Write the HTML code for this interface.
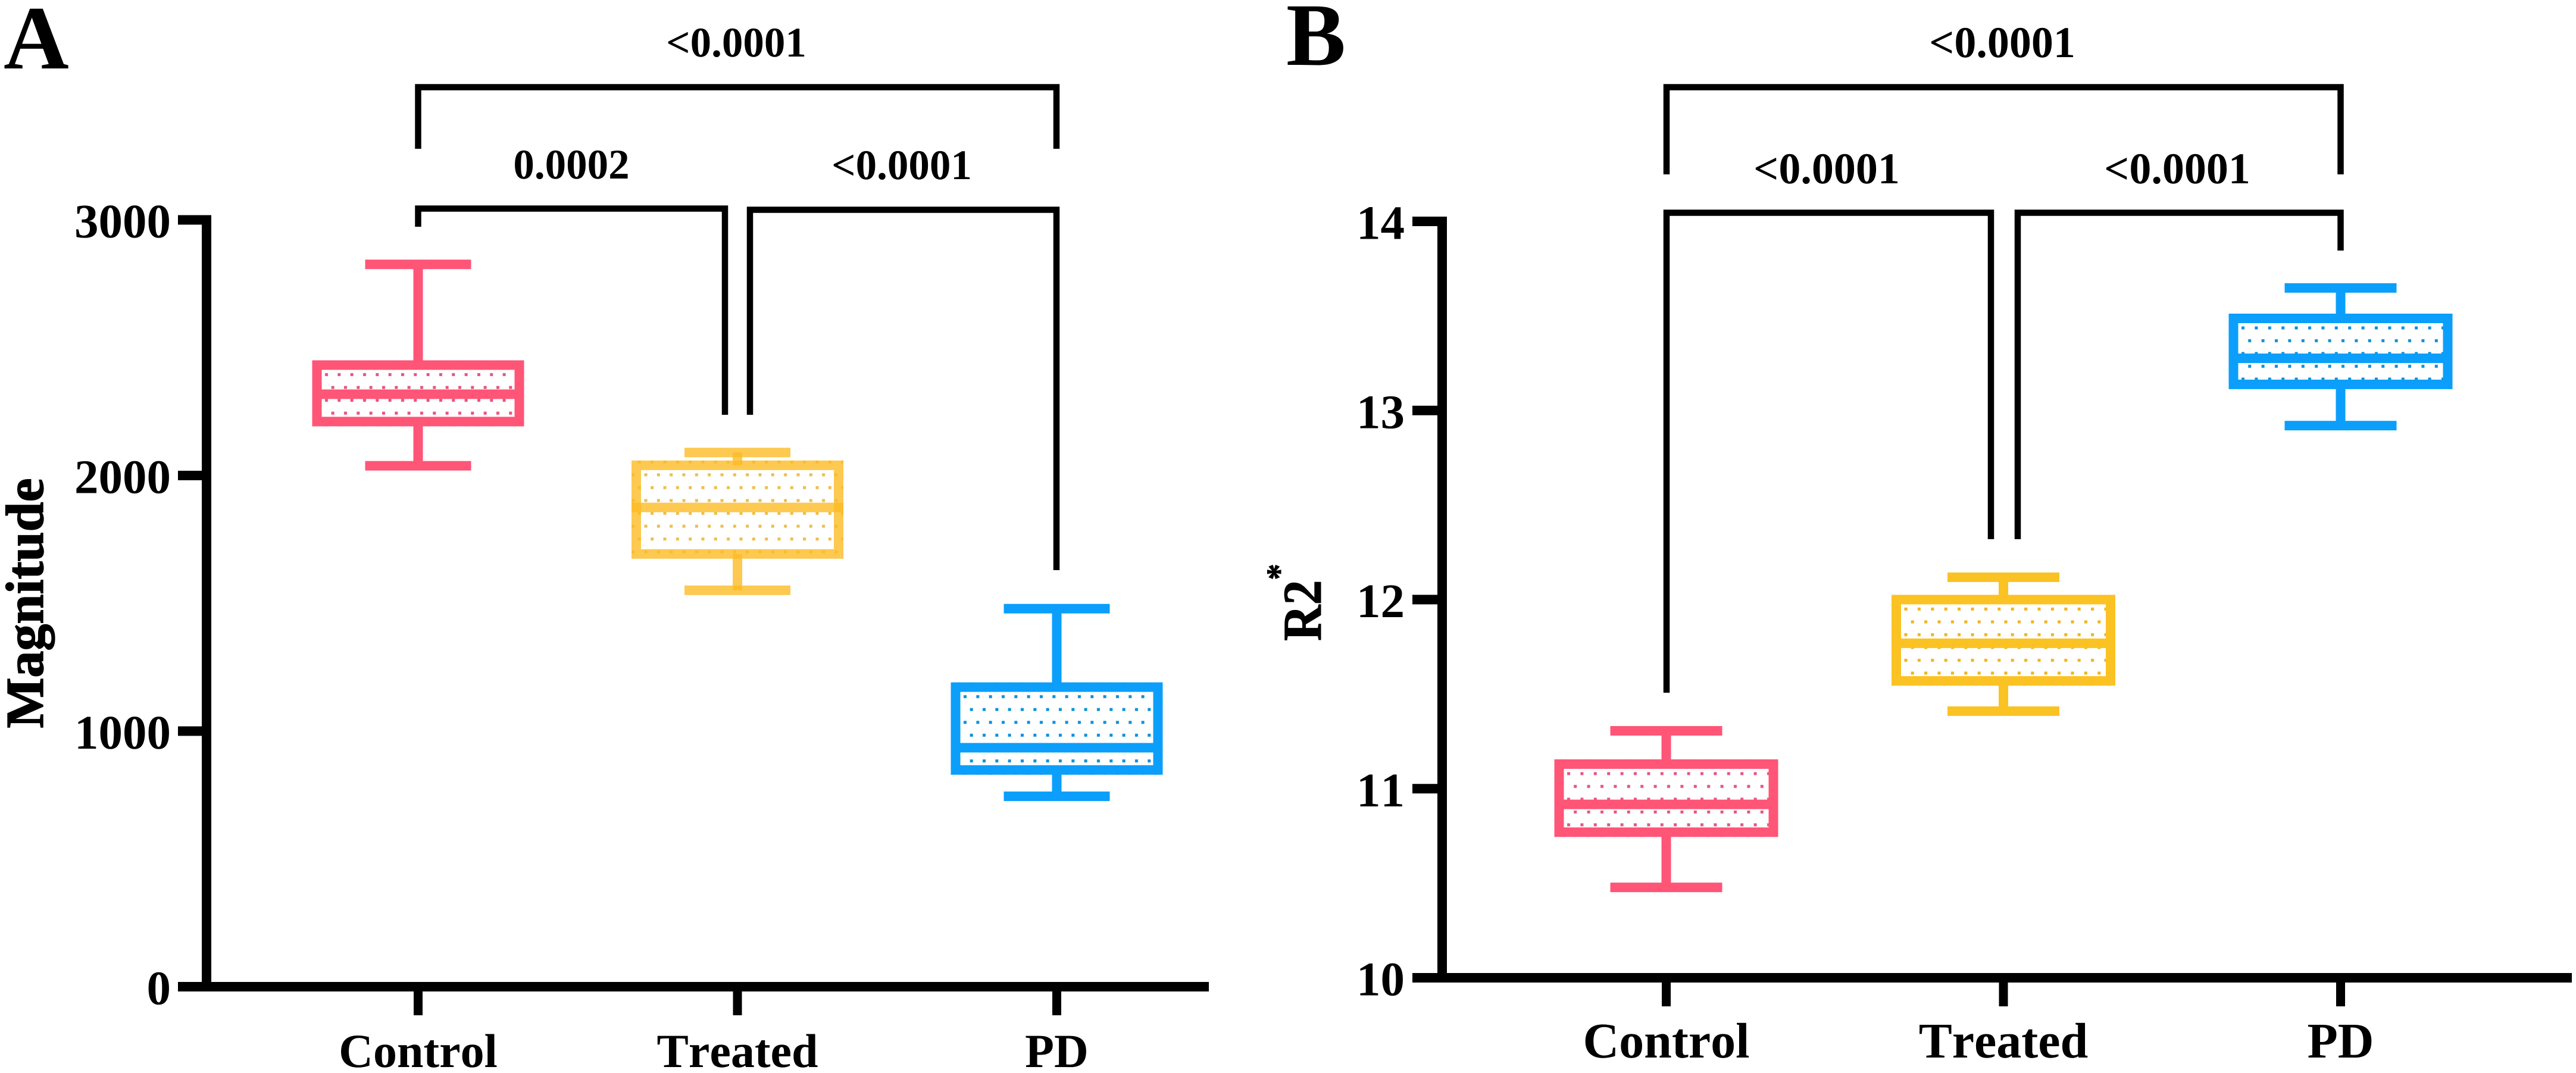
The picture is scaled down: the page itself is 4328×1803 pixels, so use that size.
<!DOCTYPE html>
<html lang="en">
<head>
<meta charset="utf-8">
<title>Magnitude and R2* box plots</title>
<style>
html,body{margin:0;padding:0;background:#fff;}
body{width:4328px;height:1803px;overflow:hidden;}
svg{display:block;}
text{font-family:"Liberation Serif",serif;font-weight:bold;fill:#000;font-kerning:none;text-rendering:geometricPrecision;}
</style>
</head>
<body>
<svg id="chart" xmlns="http://www.w3.org/2000/svg" width="4328" height="1803" viewBox="0 0 4328 1803">
  <rect x="0" y="0" width="4328" height="1803" fill="#ffffff"/>

  <text x="6" y="115" font-size="152">A</text>
  <text x="2161" y="109" font-size="150">B</text>

  <text transform="translate(72,1013.5) rotate(-90)" text-anchor="middle" font-size="90" stroke="#000" stroke-width="1.5">Magnitude</text>
  <text transform="translate(2219,1077) rotate(-90) scale(0.91,1)" font-size="92" stroke="#000" stroke-width="1">R2<tspan dy="-50" font-size="60">*</tspan></text>

  <g fill="none" stroke="#000" stroke-width="10.5">
    <path d="M702.5 250V146.5H1775V250"/>
    <path d="M702.5 381V350.5H1218V697"/>
    <path d="M1260 697V352.5H1775V958"/>
  </g>
  <text x="1237" y="95" text-anchor="middle" font-size="71">&lt;0.0001</text>
  <text x="960" y="300" text-anchor="middle" font-size="71">0.0002</text>
  <text x="1515" y="301" text-anchor="middle" font-size="71">&lt;0.0001</text>

  <g fill="none" stroke="#000" stroke-width="10.5">
    <path d="M2800 293V146.5H3932.5V293"/>
    <path d="M2800 1164V357.5H3345V906"/>
    <path d="M3390 906V357.5H3932.5V421"/>
  </g>
  <text x="3364" y="96" text-anchor="middle" font-size="74">&lt;0.0001</text>
  <text x="3069" y="308" text-anchor="middle" font-size="74">&lt;0.0001</text>
  <text x="3658" y="308" text-anchor="middle" font-size="74">&lt;0.0001</text>
</svg>

<script>
// Shared categories
const categories = ['Control', 'Treated', 'PD'];

// Panel A: Magnitude (values per category)
const magnitudeHigh = [2826, 2090, 1479];
const magnitudeQ3 = [2432, 2040, 1172];
const magnitudeMedian = [2318, 1875, 935];
const magnitudeQ1 = [2211, 1693, 848];
const magnitudeLow = [2038, 1551, 745];
const magnitudeTicks = [0, 1000, 2000, 3000];

// Panel B: R2* (values per category)
const r2High = [11.306, 12.118, 13.648];
const r2Q3 = [11.13, 12.0, 13.487];
const r2Median = [10.917, 11.769, 13.276];
const r2Q1 = [10.77, 11.57, 13.138];
const r2Low = [10.478, 11.41, 12.92];
const r2Ticks = [10, 11, 12, 13, 14];

const SVG_NS = 'http://www.w3.org/2000/svg';
const root = document.getElementById('chart');

function make(parent, tag, attrs) {
  const node = document.createElementNS(SVG_NS, tag);
  for (const key in attrs) node.setAttribute(key, attrs[key]);
  parent.appendChild(node);
  return node;
}

function drawPanel(p, cats, high, q3, median, q1, low, ticks) {
  const y = v => p.y0 - (v - p.min) * p.pxPerUnit;
  const x = i => p.x0 + i * p.xStep;

  const defs = make(root, 'defs', {});
  
  

  const group = make(root, 'g', {});
  
  

  // Boxes
  cats.forEach((cat, i) => {
    const key = cat.toLowerCase();
    const color = p.colors[i];
    const dot = p.dotColors[i];
    const alpha = p.alphas[i];
    const cx = x(i);
    const left = cx - p.boxHalf;
    const top = y(q3[i]);
    const bottom = y(q1[i]);
    const sw = p.stroke;

    const pat = make(defs, 'pattern', {
      id: p.id + '-dots-' + i,
      patternUnits: 'userSpaceOnUse',
      x: left + sw / 2 + 8 - p.dotW / 4,
      y: top + sw / 2 + 8 - p.dotH / 4,
      width: p.dotW,
      height: p.dotH
    });
    
    
    make(pat, 'rect', {x: p.dotW / 4 - 2.5, y: p.dotH / 4 - 2.5, width: 5, height: 5, fill: dot});
    make(pat, 'rect', {x: 3 * p.dotW / 4 - 2.5, y: 3 * p.dotH / 4 - 2.5, width: 5, height: 5, fill: dot});

    const box = make(group, 'g', {});
    
    

    const dots = make(box, 'rect', {x: left - sw / 2, y: top - sw / 2, width: 2 * p.boxHalf + sw, height: bottom - top + sw, fill: 'url(#' + p.id + '-dots-' + i + ')'});
    
    

    const stemHigh = make(box, 'rect', {x: cx - sw / 2, y: y(high[i]), width: sw, height: top - y(high[i]), fill: color, 'fill-opacity': alpha});
    
    

    const stemLow = make(box, 'rect', {x: cx - sw / 2, y: bottom, width: sw, height: y(low[i]) - bottom, fill: color, 'fill-opacity': alpha});
    
    

    const capHigh = make(box, 'rect', {x: cx - p.capHalf, y: y(high[i]) - sw / 2, width: 2 * p.capHalf, height: sw, fill: color, 'fill-opacity': alpha});
    
    

    const capLow = make(box, 'rect', {x: cx - p.capHalf, y: y(low[i]) - sw / 2, width: 2 * p.capHalf, height: sw, fill: color, 'fill-opacity': alpha});
    
    

    const outline = make(box, 'rect', {x: left, y: top, width: 2 * p.boxHalf, height: bottom - top, fill: 'none', stroke: color, 'stroke-width': sw, 'stroke-opacity': alpha});
    
    

    const med = make(box, 'rect', {x: left - sw / 2, y: y(median[i]) - sw / 2, width: 2 * p.boxHalf + sw, height: sw, fill: color, 'fill-opacity': alpha});
    
    
  });

  // Y axis
  const yTop = y(ticks[ticks.length - 1]);
  const yAxis = make(group, 'rect', {x: p.axisX - 8, y: yTop - 8, width: 16, height: p.y0 - yTop + 16, fill: '#000'});
  
  

  ticks.forEach(t => {
    const mark = make(group, 'rect', {x: p.tickLeft, y: y(t) - 8, width: p.axisX - p.tickLeft, height: 16, fill: '#000'});
    
    

    const label = make(group, 'text', {x: p.tickLabelRight, y: y(t) + 29.5, 'text-anchor': 'end', 'font-size': p.tickFont});
    
    
    label.textContent = String(t);
  });

  // X axis
  const xAxis = make(group, 'rect', {x: p.tickLeft, y: p.y0 - 8, width: p.axisRight - p.tickLeft, height: 16, fill: '#000'});
  
  

  cats.forEach((cat, i) => {
    const key = cat.toLowerCase();
    const mark = make(group, 'rect', {x: x(i) - 7.5, y: p.y0, width: 15, height: p.xTickBottom - p.y0, fill: '#000'});
    
    

    const label = make(group, 'text', {x: x(i), y: p.xLabelY, 'text-anchor': 'middle', 'font-size': p.xFont});
    
    
    label.textContent = cat;
  });
}

drawPanel({
  id: 'panel-a', min: 0, y0: 1658, pxPerUnit: 0.4295,
  x0: 702.5, xStep: 536.5, boxHalf: 170, capHalf: 89, stroke: 16,
  axisX: 347, tickLeft: 299, axisRight: 2031, tickLabelRight: 287, tickFont: 81,
  xTickBottom: 1706, xLabelY: 1793, xFont: 80, dotW: 21.33, dotH: 43.2,
  colors: ['#FF5577', '#FCBB24', '#0B9FFB'],
  dotColors: ['#E6557F', '#EDBE4C', '#0A90DC'],
  alphas: [1, 0.8, 1]
}, categories, magnitudeHigh, magnitudeQ3, magnitudeMedian, magnitudeQ1, magnitudeLow, magnitudeTicks);

drawPanel({
  id: 'panel-b', min: 10, y0: 1643, pxPerUnit: 317.75,
  x0: 2799.5, xStep: 566.5, boxHalf: 180, capHalf: 94, stroke: 16,
  axisX: 2423, tickLeft: 2373, axisRight: 4321, tickLabelRight: 2360, tickFont: 81,
  xTickBottom: 1691, xLabelY: 1777, xFont: 84, dotW: 22.4, dotH: 43,
  colors: ['#FF5577', '#FBC224', '#0B9FFB'],
  dotColors: ['#E6557F', '#EFB41E', '#0A90DC'],
  alphas: [1, 1, 1]
}, categories, r2High, r2Q3, r2Median, r2Q1, r2Low, r2Ticks);
</script>
</body>
</html>
